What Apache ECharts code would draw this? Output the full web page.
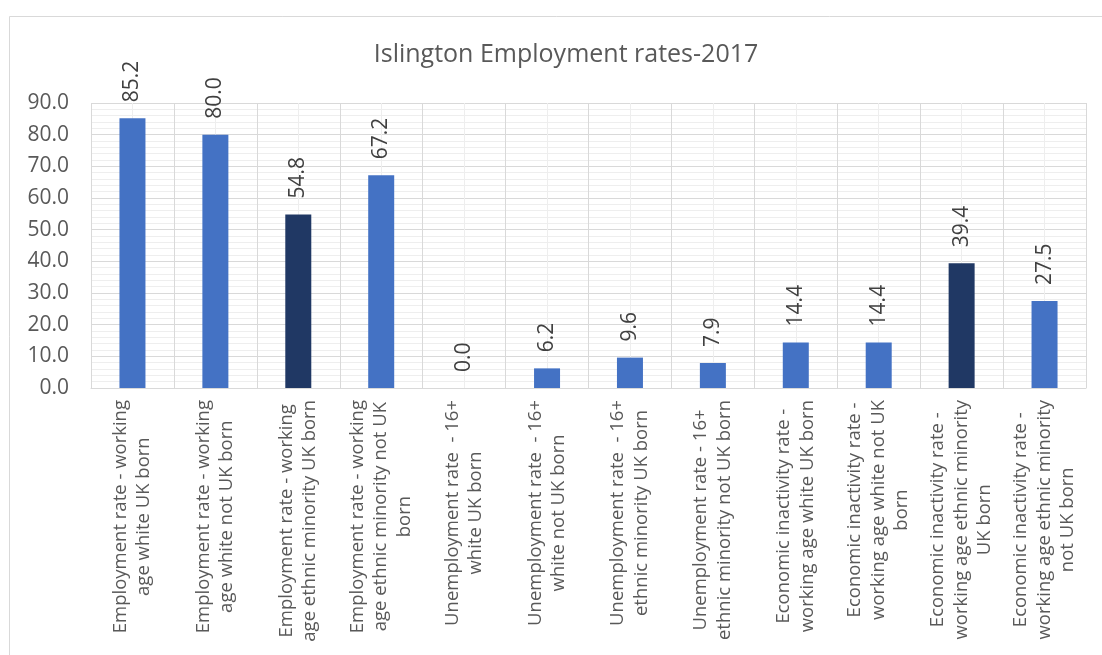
<!DOCTYPE html>
<html><head><meta charset="utf-8">
<script src="https://cdn.jsdelivr.net/npm/echarts@6/dist/echarts.min.js"></script>
<style>html,body{margin:0;padding:0;background:#fff}#c{width:1102px;height:655px}</style>
</head><body><div id="c"></div>
<script>
const titleText = 'Islington Employment rates-2017';
const categories = [
  'Employment rate - working\nage white UK born',
  'Employment rate - working\nage white not UK born',
  'Employment rate - working\nage ethnic minority UK born',
  'Employment rate - working\nage ethnic minority not UK\nborn',
  'Unemployment rate  - 16+\nwhite UK born',
  'Unemployment rate  - 16+\nwhite not UK born',
  'Unemployment rate  - 16+\nethnic minority UK born',
  'Unemployment rate - 16+\nethnic minority not UK born',
  'Economic inactivity rate -\nworking age white UK born',
  'Economic inactivity rate -\nworking age white not UK\nborn',
  'Economic inactivity rate -\nworking age ethnic minority\nUK born',
  'Economic inactivity rate -\nworking age ethnic minority\nnot UK born'
];
const values = [85.2, 80.0, 54.8, 67.2, 0.0, 6.2, 9.6, 7.9, 14.4, 14.4, 39.4, 27.5];
const highlighted = [2, 10];
const yTicks = [0, 10, 20, 30, 40, 50, 60, 70, 80, 90];

const FONT = '"Open Sans", "Noto Sans", sans-serif';
const chart = echarts.init(document.getElementById('c'), null, {renderer: 'canvas'});
chart.setOption({
  animation: false,
  backgroundColor: '#fff',
  graphic: [{type: 'rect', shape: {x: 9.5, y: 16.5, width: 1120, height: 700}, style: {fill: 'none', stroke: '#d9d9d9', lineWidth: 1}, silent: true, z: -10}],
  title: {text: titleText, left: 561, top: 37, textAlign: 'center',
    textStyle: {fontFamily: FONT, fontSize: 25, fontWeight: 'normal', color: '#595959'}},
  grid: {left: 91, right: 16, top: 103, bottom: 267, containLabel: false},
  xAxis: [{
    type: 'category', data: categories, position: 'bottom',
    axisLine: {show: true, lineStyle: {color: '#d9d9d9', width: 1}},
    axisTick: {show: false}, splitLine: {show: false},
    axisLabel: {interval: 0, rotate: 90, margin: 12, color: '#595959',
      fontFamily: FONT, fontSize: 18.5, lineHeight: 23.5,
      formatter: v => v.split('\n').map(s => '{a|' + s + '}').join('\n'),
      rich: {a: {align: 'center', fontFamily: FONT, fontSize: 18.5, lineHeight: 23.5, color: '#595959'}}}
  }, {
    type: 'value', min: 0, max: categories.length, interval: 1, show: true, position: 'top',
    axisLine: {show: false}, axisTick: {show: false}, axisLabel: {show: false},
    splitLine: {show: true, lineStyle: {color: '#d9d9d9', width: 1}},
    minorTick: {show: false, splitNumber: 2},
    minorSplitLine: {show: true, lineStyle: {color: '#eeeeee', width: 1}}
  }],
  yAxis: {
    type: 'value', min: yTicks[0], max: yTicks[yTicks.length - 1], interval: 10,
    axisLine: {show: false}, axisTick: {show: false},
    axisLabel: {formatter: v => v.toFixed(1), color: '#595959', fontFamily: FONT, fontSize: 21, margin: 22},
    splitLine: {lineStyle: {color: '#d9d9d9', width: 1}},
    minorTick: {show: false, splitNumber: 5},
    minorSplitLine: {show: true, lineStyle: {color: '#eeeeee', width: 1}}
  },
  series: [{
    type: 'bar', xAxisIndex: 0, barWidth: 26,
    data: values.map((v, i) => ({value: v, itemStyle: {color: highlighted.includes(i) ? '#203864' : '#4472C4'}})),
    label: {show: true, position: 'top', rotate: 90, align: 'left', verticalAlign: 'middle', distance: 16,
      formatter: p => p.value.toFixed(1), color: '#404040', fontFamily: FONT, fontSize: 21}
  }]
});
</script></body></html>
